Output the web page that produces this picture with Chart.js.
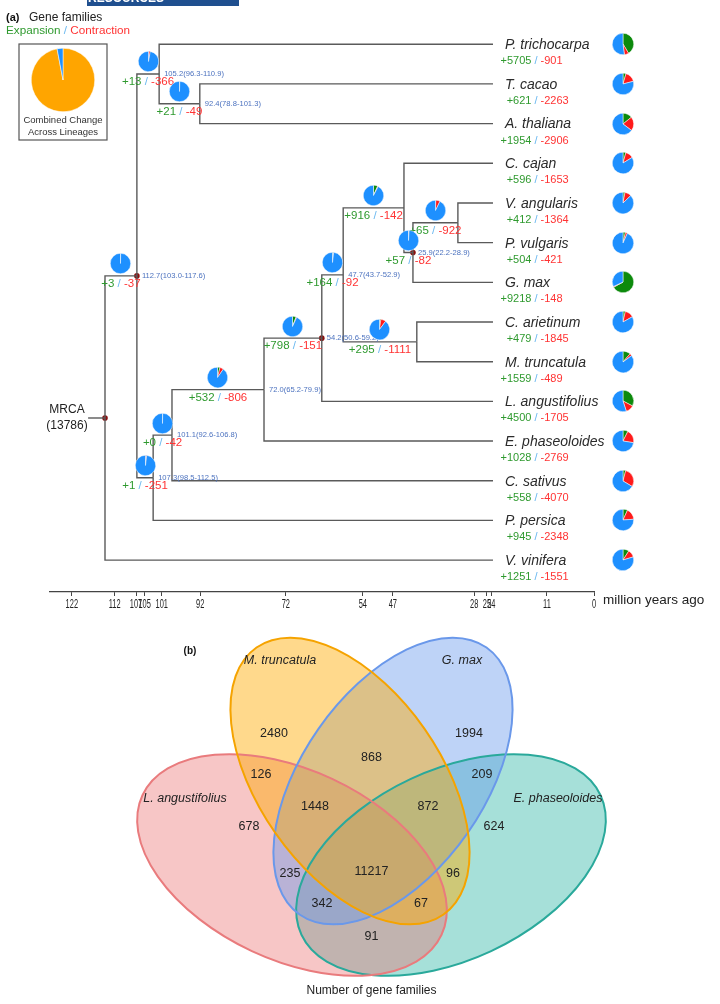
<!DOCTYPE html>
<html>
<head>
<meta charset="utf-8">
<script src="https://cdn.jsdelivr.net/npm/chart.js@4.4.0/dist/chart.umd.min.js"></script>
<style>
  html, body { margin: 0; padding: 0; background: #fff; }
  #wrap { position: relative; width: 720px; height: 1004px; overflow: hidden; }
  #tree { position: absolute; left: 0; top: 0; }
  #venn { position: absolute; left: 0; top: 620px; }
  .pie { position: absolute; pointer-events: none; }
</style>
</head>
<body>
<div id="wrap">
  <canvas id="tree" width="720" height="620"></canvas>
  <canvas id="venn" width="720" height="384"></canvas>
</div>
<script>
// ---------- panel (a): gene family expansion / contraction on the tree ----------
const tipNames = ['P. trichocarpa', 'T. cacao', 'A. thaliana', 'C. cajan', 'V. angularis', 'P. vulgaris', 'G. max',
  'C. arietinum', 'M. truncatula', 'L. angustifolius', 'E. phaseoloides', 'C. sativus', 'P. persica', 'V. vinifera'];
const tipGain = [5705, 621, 1954, 596, 412, 504, 9218, 479, 1559, 4500, 1028, 558, 945, 1251];
const tipLoss = [901, 2263, 2906, 1653, 1364, 421, 148, 1845, 489, 1705, 2769, 4070, 2348, 1551];
const tipTime = 23.6;

// internal nodes; a child is a tip index (number) or a node id
const nodeIds = ['root', 'n112', 'n105', 'n92', 'n107', 'n101', 'n72', 'n54', 'n47', 'nCaj', 'n25', 'nVig', 'nAri'];
const nodeChildren = [['n112', 13], ['n105', 'n107'], [0, 'n92'], [1, 2], ['n101', 12], ['n72', 11], ['n54', 10],
  ['n47', 9], ['nCaj', 'nAri'], [3, 'n25'], ['nVig', 6], [4, 5], [7, 8]];
const nodeTime = [114.25, 106.8, 101.6, 92.1, 103.0, 98.6, 77.1, 63.6, 58.6, 44.4, 42.3, 31.8, 41.4];
const nodeAge = ['', '112.7(103.0-117.6)', '105.2(96.3-110.9)', '92.4(78.8-101.3)', '107.3(98.5-112.5)',
  '101.1(92.6-106.8)', '72.0(65.2-79.9)', '54.2(50.6-59.2)', '47.7(43.7-52.9)', '', '25.9(22.2-28.9)', '', ''];
const nodeGain = [null, 3, 13, 21, 1, 0, 532, 798, 164, 916, 57, 65, 295];
const nodeLoss = [null, 37, 366, 49, 251, 42, 806, 151, 92, 142, 82, 922, 1111];
const calibrated = ['root', 'n112', 'n54', 'n25'];
const rootFamilies = 13786;
const rootStubTime = 118.2;
const axisTicks = [122, 112, 107, 105, 101, 92, 72, 54, 47, 28, 25, 24, 11, 0];
const combinedChange = [97, 3];

// ---------- panel (b): Venn counts ----------
const vennSets = ['L. angustifolius', 'M. truncatula', 'G. max', 'E. phaseoloides'];
const vennRegions = ['M', 'G', 'MG', 'LM', 'GE', 'LMG', 'MGE', 'L', 'E', 'LG', 'LMGE', 'ME', 'LGE', 'LME', 'LE'];
const vennCounts = [2480, 1994, 868, 126, 209, 1448, 872, 678, 624, 235, 11217, 96, 342, 67, 91];

// colours
const pieGreen = '#0c8a0c', pieRed = '#ff1a1a', pieBlue = '#1e90ff';
const txtGreen = '#2f9a2f', txtRed = '#ff3333', txtSlash = '#6ab8f0';
const FONT = "'Liberation Sans', Arial, sans-serif";

// ---- tree geometry (in axis units) ----
const idx = id => nodeIds.indexOf(id);
const nodeY = [];
function placeY(id) {
  const i = idx(id);
  const ys = nodeChildren[i].map(c => typeof c === 'number' ? c : placeY(c));
  nodeY[i] = (ys[0] + ys[1]) / 2;
  return nodeY[i];
}
placeY('root');
const yOf = c => typeof c === 'number' ? c : nodeY[idx(c)];
const timeOf = c => typeof c === 'number' ? tipTime : nodeTime[idx(c)];
const parentOf = c => nodeChildren.findIndex(ch => ch.includes(c));

const branchSets = [];
const lineStyle = { type: 'line', showLine: true, pointRadius: 0, borderColor: '#5a5a5a', borderWidth: 1.4, fill: false };
branchSets.push(Object.assign({ data: [{ x: rootStubTime, y: nodeY[0] }, { x: nodeTime[0], y: nodeY[0] }] }, lineStyle));
nodeIds.forEach((id, i) => {
  nodeChildren[i].forEach(c => {
    branchSets.push(Object.assign({
      data: [{ x: nodeTime[i], y: nodeY[i] }, { x: nodeTime[i], y: yOf(c) }, { x: timeOf(c), y: yOf(c) }]
    }, lineStyle));
  });
});
const dotSet = {
  type: 'scatter', pointRadius: 2.8, pointBackgroundColor: '#8b1010', pointBorderWidth: 0,
  data: calibrated.map(id => ({ x: nodeTime[idx(id)], y: nodeY[idx(id)] }))
};

function drawParts(ctx, gain, loss, x, y, mode) {
  const parts = ['+' + gain, ' / ', '-' + loss];
  const cols = [txtGreen, txtSlash, txtRed];
  const w = parts.map(p => ctx.measureText(p).width);
  let s = mode === 'center' ? x - (w[0] + w[1] + w[2]) / 2 : x - w[0] - w[1] / 2;
  ctx.textAlign = 'left';
  parts.forEach((p, i) => { ctx.fillStyle = cols[i]; ctx.fillText(p, s, y); s += w[i]; });
}

const treeText = {
  id: 'treeText',
  afterDatasetsDraw(chart) {
    const ctx = chart.ctx, xs = chart.scales.x, ys = chart.scales.y;
    ctx.save();
    ctx.textBaseline = 'middle';

    // journal strip at the very top
    ctx.fillStyle = '#1f4f8f';
    ctx.fillRect(87, 0, 152, 6);
    ctx.fillStyle = '#fff';
    ctx.font = 'bold 12px ' + FONT;
    ctx.textAlign = 'left';
    ctx.fillText('RESOURCES', 88, -1);

    // heading
    ctx.fillStyle = '#111';
    ctx.font = 'bold 11px ' + FONT;
    ctx.fillText('(a)', 6, 18);
    ctx.font = '12px ' + FONT;
    ctx.fillStyle = '#222';
    ctx.fillText('Gene families', 29, 18);
    ctx.font = '11.7px ' + FONT;
    let hx = 6;
    [['Expansion', txtGreen], [' / ', txtSlash], ['Contraction', txtRed]].forEach(([t, c]) => {
      ctx.fillStyle = c; ctx.fillText(t, hx, 31); hx += ctx.measureText(t).width;
    });

    // legend box
    ctx.strokeStyle = '#555'; ctx.lineWidth = 1.2;
    ctx.strokeRect(19, 44, 88, 96);
    ctx.fillStyle = '#333'; ctx.font = '9.5px ' + FONT; ctx.textAlign = 'center';
    ctx.fillText('Combined Change', 63, 120);
    ctx.fillText('Across Lineages', 63, 132);

    // MRCA
    ctx.font = '12px ' + FONT; ctx.fillStyle = '#222';
    ctx.fillText('MRCA', 67, ys.getPixelForValue(nodeY[0]) - 8);
    ctx.fillText('(' + rootFamilies + ')', 67, ys.getPixelForValue(nodeY[0]) + 8);

    // node ages
    ctx.font = '7.6px ' + FONT; ctx.fillStyle = '#4c72bf'; ctx.textAlign = 'left';
    nodeIds.forEach((id, i) => {
      if (!nodeAge[i]) return;
      ctx.fillText(nodeAge[i], xs.getPixelForValue(nodeTime[i]) + 5, ys.getPixelForValue(nodeY[i]));
    });

    // branch gains / losses
    ctx.font = '11.5px ' + FONT;
    nodeIds.forEach((id, i) => {
      if (nodeGain[i] === null) return;
      const p = parentOf(id);
      const mid = (xs.getPixelForValue(nodeTime[p]) + xs.getPixelForValue(nodeTime[i])) / 2;
      drawParts(ctx, nodeGain[i], nodeLoss[i], mid, ys.getPixelForValue(nodeY[i]) + 8, 'center');
    });

    // tips
    const tx = xs.getPixelForValue(tipTime);
    tipNames.forEach((n, i) => {
      const ty = ys.getPixelForValue(i);
      ctx.font = 'italic 14px ' + FONT; ctx.fillStyle = '#2b2b2b'; ctx.textAlign = 'left';
      ctx.fillText(n, tx + 12, ty + 1);
      ctx.font = '11px ' + FONT;
      drawParts(ctx, tipGain[i], tipLoss[i], tx + 43, ty + 17, 'slash');
    });

    // axis tick labels (narrow) and unit
    ctx.fillStyle = '#222'; ctx.textAlign = 'center';
    ctx.font = '12px ' + FONT;
    xs.ticks.forEach(t => {
      ctx.save();
      ctx.translate(xs.getPixelForValue(t.value), xs.bottom + 9);
      ctx.scale(0.62, 1);
      ctx.fillText(String(t.value), 0, 0);
      ctx.restore();
    });
    ctx.font = '13.5px ' + FONT; ctx.fillStyle = '#222'; ctx.textAlign = 'left';
    ctx.fillText('million years ago', xs.right + 9, xs.top + 8);
    ctx.restore();
  }
};

const treeChart = new Chart(document.getElementById('tree'), {
  type: 'scatter',
  data: { datasets: [...branchSets, dotSet] },
  options: {
    responsive: false,
    animation: false,
    events: [],
    layout: { padding: { left: 50, right: 126, top: 3, bottom: 24 } },
    plugins: { legend: { display: false }, tooltip: { enabled: false } },
    scales: {
      x: {
        type: 'linear', reverse: true, min: 0, max: 127.1,
        afterBuildTicks: s => { s.ticks = axisTicks.map(v => ({ value: v })); },
        ticks: { display: false },
        grid: { drawOnChartArea: false, drawTicks: true, tickLength: 4, color: '#444', lineWidth: 1 },
        border: { color: '#444', width: 1.2 }
      },
      y: { display: false, reverse: true, min: -1.014, max: 13.804 }
    }
  },
  plugins: [treeText]
});

// pies, placed with the tree's scales
const wrap = document.getElementById('wrap');
function addPie(cx, cy, r, values, colors) {
  const size = Math.round(r * 2 + 2);
  const c = document.createElement('canvas');
  c.width = size; c.height = size;
  c.className = 'pie';
  c.style.left = Math.round(cx - size / 2) + 'px';
  c.style.top = Math.round(cy - size / 2) + 'px';
  wrap.appendChild(c);
  new Chart(c, {
    type: 'pie',
    data: { datasets: [{ data: values, backgroundColor: colors, borderColor: '#fff', borderWidth: 0.5 }] },
    options: {
      responsive: false, animation: false, events: [],
      layout: { padding: 0 },
      plugins: { legend: { display: false }, tooltip: { enabled: false } }
    }
  });
}
{
  const xs = treeChart.scales.x, ys = treeChart.scales.y;
  const cols = [pieGreen, pieRed, pieBlue];
  addPie(63, 80, 31, combinedChange, ['#ffa500', pieBlue]);
  nodeIds.forEach((id, i) => {
    if (nodeGain[i] === null) return;
    const p = parentOf(id);
    const mid = (xs.getPixelForValue(nodeTime[p]) + xs.getPixelForValue(nodeTime[i])) / 2;
    addPie(mid, ys.getPixelForValue(nodeY[i]) - 12, 9.5,
      [nodeGain[i], nodeLoss[i], rootFamilies - nodeGain[i] - nodeLoss[i]], cols);
  });
  const tx = xs.getPixelForValue(tipTime);
  tipNames.forEach((n, i) => {
    addPie(tx + 130, ys.getPixelForValue(i), 10,
      [tipGain[i], tipLoss[i], rootFamilies - tipGain[i] - tipLoss[i]], cols);
  });
}

// ---------- Venn ----------
// one ellipse per set, in vennSets order
const vennShapes = [
  { cx: 292, cy: 245, a: 165, b: 95, rot: 25, fill: 'rgba(236,112,112,0.4)', stroke: '#e97b7d' },
  { cx: 350, cy: 161, a: 163, b: 91, rot: 55, fill: 'rgba(255,170,0,0.45)', stroke: '#f5a300' },
  { cx: 393, cy: 161, a: 163, b: 91, rot: -55, fill: 'rgba(100,150,235,0.42)', stroke: '#6a98ea' },
  { cx: 451, cy: 245, a: 165, b: 95, rot: -25, fill: 'rgba(32,178,160,0.4)', stroke: '#2aa99b' }
];
const vennPaintOrder = [3, 0, 2, 1];
const vennLabelAt = {
  M: [274, 114], G: [469, 114], MG: [371.5, 138], LM: [261, 155], GE: [482, 155], LMG: [315, 187], MGE: [428, 187],
  L: [249, 207], E: [494, 207], LG: [290, 254], LMGE: [371.5, 252], ME: [453, 254], LGE: [322, 284], LME: [421, 284],
  LE: [371.5, 317]
};
const vennSetAt = [[185, 179], [280, 41], [462, 41], [558, 179]];

const vennDraw = {
  id: 'vennDraw',
  beforeDatasetsDraw(chart) {
    const { ctx, scales: { x, y } } = chart;
    ctx.save();
    const path = e => {
      const cx = x.getPixelForValue(e.cx), cy = y.getPixelForValue(e.cy);
      const rx = Math.abs(x.getPixelForValue(e.cx + e.a) - cx), ry = Math.abs(y.getPixelForValue(e.cy + e.b) - cy);
      ctx.beginPath();
      ctx.ellipse(cx, cy, rx, ry, e.rot * Math.PI / 180, 0, Math.PI * 2);
    };
    vennPaintOrder.forEach(k => { const e = vennShapes[k]; path(e); ctx.fillStyle = e.fill; ctx.fill(); });
    ctx.lineWidth = 2;
    vennPaintOrder.forEach(k => { const e = vennShapes[k]; path(e); ctx.strokeStyle = e.stroke; ctx.stroke(); });
    ctx.restore();
  },
  afterDatasetsDraw(chart) {
    const { ctx, scales: { x, y } } = chart;
    ctx.save();
    ctx.textAlign = 'center'; ctx.textBaseline = 'middle';
    ctx.fillStyle = '#222';
    ctx.font = '12.5px ' + FONT;
    chart.getDatasetMeta(0).data.forEach((pt, i) => ctx.fillText(String(vennCounts[i]), pt.x, pt.y));
    ctx.font = 'italic 12.5px ' + FONT;
    vennSets.forEach((s, i) => ctx.fillText(s, x.getPixelForValue(vennSetAt[i][0]), y.getPixelForValue(vennSetAt[i][1])));
    ctx.font = 'bold 10px ' + FONT; ctx.fillStyle = '#111';
    ctx.fillText('(b)', x.getPixelForValue(190), y.getPixelForValue(31));
    ctx.font = '12px ' + FONT; ctx.fillStyle = '#222';
    ctx.fillText('Number of gene families', x.getPixelForValue(371.5), y.getPixelForValue(371));
    ctx.restore();
  }
};

new Chart(document.getElementById('venn'), {
  type: 'scatter',
  data: {
    datasets: [{
      data: vennRegions.map(r => ({ x: vennLabelAt[r][0], y: vennLabelAt[r][1] })),
      pointRadius: 0
    }]
  },
  options: {
    responsive: false, animation: false, events: [],
    layout: { padding: 0 },
    plugins: { legend: { display: false }, tooltip: { enabled: false } },
    scales: {
      x: { display: false, min: 0, max: 720 },
      y: { display: false, min: 0, max: 384, reverse: true }
    }
  },
  plugins: [vennDraw]
});
</script>
</body>
</html>
